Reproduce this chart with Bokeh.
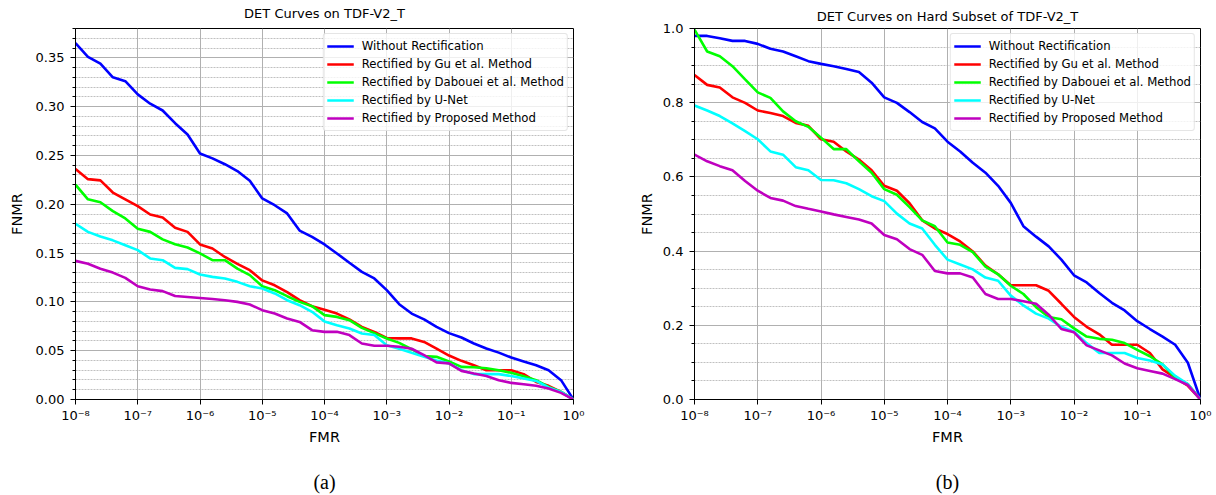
from bokeh.plotting import figure
from bokeh.layouts import row
from bokeh.models import (Range1d, FixedTicker, SingleIntervalTicker, CustomJSTickFormatter,
                          PrintfTickFormatter, Legend, LegendItem, LogAxis, ColumnDataSource)
from bokeh.embed import file_html
from bokeh.resources import INLINE

# ---------------- data ----------------
FMR_EXP = [-8.0, -7.8, -7.6, -7.4, -7.2, -7.0, -6.8, -6.6, -6.4, -6.2,
           -6.0, -5.8, -5.6, -5.4, -5.2, -5.0, -4.8, -4.6, -4.4, -4.2,
           -4.0, -3.8, -3.6, -3.4, -3.2, -3.0, -2.8, -2.6, -2.4, -2.2,
           -2.0, -1.8, -1.6, -1.4, -1.2, -1.0, -0.8, -0.6, -0.4, -0.2, 0.0]

SERIES_NAMES = ["Without Rectification", "Rectified by Gu et al. Method",
                "Rectified by Dabouei et al. Method", "Rectified by U-Net",
                "Rectified by Proposed Method"]
SERIES_COLORS = ["#0000ff", "#ff0000", "#00ff00", "#00ffff", "#bf00bf"]

DECADE_TICKS = [1e-8, 1e-7, 1e-6, 1e-5, 1e-4, 1e-3, 1e-2, 1e-1, 1e0]

# (a) DET Curves on TDF-V2_T
A_WITHOUT = [0.365, 0.351, 0.344, 0.330, 0.326, 0.3125, 0.303, 0.296, 0.283, 0.2715,
             0.252, 0.247, 0.241, 0.234, 0.224, 0.206, 0.199, 0.1906, 0.173, 0.1666,
             0.1588, 0.1496, 0.140, 0.1307, 0.124, 0.112, 0.0976, 0.088, 0.082, 0.0744,
             0.068, 0.0635, 0.0574, 0.0522, 0.048, 0.043, 0.039, 0.035, 0.030, 0.0198, 0.0]
A_GU = [0.236, 0.2257, 0.2244, 0.212, 0.205, 0.198, 0.1895, 0.1865, 0.176, 0.1717,
        0.1588, 0.1547, 0.146, 0.139, 0.1325, 0.122, 0.117, 0.110, 0.1017, 0.0956,
        0.092, 0.088, 0.082, 0.0744, 0.0693, 0.063, 0.0626, 0.0626, 0.059, 0.052,
        0.045, 0.0396, 0.035, 0.030, 0.030, 0.030, 0.026, 0.018, 0.014, 0.0078, 0.0]
A_DABOUEI = [0.220, 0.205, 0.202, 0.193, 0.1855, 0.175, 0.1717, 0.164, 0.159, 0.1557,
             0.1496, 0.1427, 0.1427, 0.134, 0.1274, 0.116, 0.112, 0.1058, 0.100, 0.0956,
             0.0864, 0.0846, 0.0812, 0.0734, 0.068, 0.0625, 0.058, 0.0515, 0.0444, 0.0437,
             0.039, 0.0334, 0.033, 0.032, 0.030, 0.0273, 0.0239, 0.0198, 0.0129, 0.0078, 0.0]
A_UNET = [0.180, 0.1717, 0.167, 0.163, 0.158, 0.153, 0.1445, 0.1427, 0.1348, 0.1335,
          0.128, 0.1256, 0.124, 0.1205, 0.116, 0.1137, 0.1086, 0.1017, 0.0966, 0.0898,
          0.080, 0.076, 0.0727, 0.0676, 0.066, 0.0556, 0.052, 0.0478, 0.0437, 0.040,
          0.037, 0.030, 0.026, 0.026, 0.026, 0.024, 0.0215, 0.019, 0.0123, 0.0078, 0.0]
A_PROPOSED = [0.142, 0.139, 0.134, 0.130, 0.1246, 0.116, 0.1127, 0.111, 0.106, 0.105,
              0.104, 0.103, 0.1017, 0.100, 0.0973, 0.0915, 0.088, 0.083, 0.0795, 0.071,
              0.0693, 0.0693, 0.066, 0.0574, 0.055, 0.055, 0.054, 0.052, 0.0454, 0.038,
              0.037, 0.0293, 0.0266, 0.024, 0.0198, 0.017, 0.0157, 0.014, 0.0113, 0.0068, 0.0]

# (b) DET Curves on Hard Subset of TDF-V2_T
B_WITHOUT = [0.980, 0.980, 0.9735, 0.9666, 0.9666, 0.9586, 0.9454, 0.938, 0.925, 0.912,
             0.9046, 0.8985, 0.891, 0.8826, 0.854, 0.8145, 0.7996, 0.7747, 0.748, 0.7307,
             0.695, 0.6687, 0.638, 0.6114, 0.576, 0.530, 0.467, 0.439, 0.4127, 0.377,
             0.3348, 0.3154, 0.287, 0.2606, 0.240, 0.211, 0.190, 0.1696, 0.1475, 0.099, 0.0]
B_GU = [0.8746, 0.848, 0.841, 0.8145, 0.7996, 0.779, 0.772, 0.764, 0.7456, 0.7376,
        0.7015, 0.695, 0.6687, 0.6467, 0.618, 0.576, 0.5627, 0.529, 0.483, 0.461,
        0.446, 0.426, 0.399, 0.361, 0.3375, 0.308, 0.308, 0.308, 0.293, 0.258,
        0.2226, 0.196, 0.1757, 0.1475, 0.1475, 0.1475, 0.1254, 0.0813, 0.059, 0.037, 0.0]
B_DABOUEI = [0.997, 0.938, 0.925, 0.8985, 0.863, 0.8277, 0.813, 0.7766, 0.750, 0.735,
             0.7058, 0.675, 0.675, 0.642, 0.6114, 0.567, 0.552, 0.5187, 0.483, 0.467,
             0.423, 0.417, 0.397, 0.358, 0.3375, 0.3066, 0.2844, 0.249, 0.2226, 0.2165,
             0.1917, 0.1696, 0.1635, 0.161, 0.152, 0.134, 0.1166, 0.0946, 0.059, 0.0416, 0.0]
B_UNET = [0.7925, 0.779, 0.764, 0.744, 0.7236, 0.7015, 0.6687, 0.660, 0.6263, 0.618,
          0.5918, 0.591, 0.583, 0.567, 0.548, 0.5346, 0.501, 0.4744, 0.461, 0.417,
          0.377, 0.364, 0.3507, 0.3287, 0.320, 0.280, 0.2536, 0.2314, 0.218, 0.196,
          0.183, 0.152, 0.1254, 0.1254, 0.1254, 0.112, 0.105, 0.0946, 0.0636, 0.0416, 0.0]
B_PROPOSED = [0.660, 0.642, 0.629, 0.618, 0.589, 0.5627, 0.5433, 0.536, 0.5213, 0.514,
              0.507, 0.499, 0.492, 0.485, 0.4744, 0.4434, 0.432, 0.4055, 0.390, 0.3464,
              0.340, 0.340, 0.3287, 0.2844, 0.271, 0.271, 0.265, 0.258, 0.2287, 0.190,
              0.181, 0.1458, 0.1325, 0.119, 0.097, 0.084, 0.0769, 0.0698, 0.0548, 0.039, 0.0]

FONT = "DejaVu Sans"
GRID = "#b0b0b0"

sup_formatter = CustomJSTickFormatter(code="""
const sup = {'-':'\u207b','0':'\u2070','1':'\u00b9','2':'\u00b2','3':'\u00b3','4':'\u2074',
             '5':'\u2075','6':'\u2076','7':'\u2077','8':'\u2078','9':'\u2079'};
const e = Math.round(Math.log10(tick));
return '10' + String(e).split('').map(c => sup[c]).join('');
""")


def make_panel(title, caption, series, ymax, yint, nminor, yfmt, width,
               mb_left, mb_right, mb_top, title_standoff, ylabel_standoff):
    p = figure(width=width, height=495, x_axis_type="log",
               x_range=Range1d(1e-8, 1.0), y_range=Range1d(0, ymax),
               output_backend="svg", toolbar_location=None,
               min_border_left=mb_left, min_border_right=mb_right,
               min_border_top=mb_top, min_border_bottom=96)
    p.background_fill_color = "white"
    p.border_fill_color = "white"
    p.outline_line_color = "black"
    p.outline_line_width = 1
    p.outline_line_alpha = 1

    p.title.text = title
    p.title.align = "center"
    p.title.vertical_align = "top"
    p.title.text_font = FONT
    p.title.text_font_size = "13px"
    p.title.text_font_style = "normal"
    p.title.text_color = "black"
    p.title.standoff = title_standoff

    xs = [10 ** e for e in FMR_EXP]
    renderers = []
    for ys, col in zip(series, SERIES_COLORS):
        src = ColumnDataSource(dict(x=xs, y=ys))
        r = p.line("x", "y", source=src, line_color=col, line_width=2.6)
        renderers.append(r)

    p.xaxis.ticker = FixedTicker(ticks=DECADE_TICKS, minor_ticks=[])
    p.xaxis.formatter = sup_formatter
    p.yaxis.ticker = SingleIntervalTicker(interval=yint, num_minor_ticks=nminor)
    p.yaxis.formatter = PrintfTickFormatter(format=yfmt)

    for ax in (p.xaxis[0], p.yaxis[0]):
        ax.axis_line_color = "black"
        ax.major_tick_line_color = "black"
        ax.minor_tick_line_color = "black"
        ax.major_tick_out = 5
        ax.major_tick_in = 0
        ax.minor_tick_out = 3
        ax.minor_tick_in = 0
        ax.major_label_text_font = FONT
        ax.major_label_text_font_size = "13px"
        ax.major_label_text_color = "black"
        ax.axis_label_text_font = FONT
        ax.axis_label_text_font_size = "14.5px"
        ax.axis_label_text_font_style = "normal"
        ax.axis_label_text_color = "black"
    p.xaxis.axis_label = "FMR"
    p.yaxis.axis_label = "FNMR"
    p.xaxis.major_label_standoff = 3
    p.yaxis.major_label_standoff = 6
    p.xaxis.axis_label_standoff = 3
    p.yaxis.axis_label_standoff = ylabel_standoff

    p.xgrid.grid_line_color = GRID
    p.xgrid.grid_line_width = 1
    p.ygrid.grid_line_color = GRID
    p.ygrid.grid_line_width = 1
    p.ygrid.minor_grid_line_color = GRID
    p.ygrid.minor_grid_line_width = 0.8
    p.ygrid.minor_grid_line_dash = "2 1"

    legend = Legend(items=[LegendItem(label=n, renderers=[r]) for n, r in zip(SERIES_NAMES, renderers)],
                    location="top_right")
    legend.label_text_font = FONT
    legend.label_text_font_size = "11.7px"
    legend.label_text_color = "black"
    legend.glyph_width = 27
    legend.glyph_height = 18
    legend.label_height = 18
    legend.label_standoff = 8
    legend.spacing = 0
    legend.padding = 3
    legend.margin = 5
    legend.border_line_color = "#cccccc"
    legend.border_line_width = 1
    legend.background_fill_alpha = 0.8
    try:
        legend.border_radius = 3
    except Exception:
        pass
    p.add_layout(legend)

    # sub-figure caption "(a)" / "(b)" as a tick-less axis label under the FMR axis
    cap_axis = LogAxis(ticker=FixedTicker(ticks=[], minor_ticks=[]), axis_label=caption,
                       axis_line_color=None, major_tick_line_color=None,
                       minor_tick_line_color=None, major_tick_out=0, minor_tick_out=0,
                       major_label_standoff=0, major_label_text_font_size="0px",
                       axis_label_text_font="Liberation Serif",
                       axis_label_text_font_size="20px",
                       axis_label_text_font_style="normal",
                       axis_label_text_color="black",
                       axis_label_standoff=23)
    p.add_layout(cap_axis, "below")
    return p


p1 = make_panel("DET Curves on TDF-V2_T", "(a)",
                [A_WITHOUT, A_GU, A_DABOUEI, A_UNET, A_PROPOSED],
                0.38, 0.05, 5, "%.2f", 618, 75, 45, 28, 11, 8)
p2 = make_panel("DET Curves on Hard Subset of TDF-V2_T", "(b)",
                [B_WITHOUT, B_GU, B_DABOUEI, B_UNET, B_PROPOSED],
                1.0, 0.2, 4, "%.1f", 596, 76, 14, 22, 5, 5)

layout = row(p1, p2)
open("out.html", "w").write(file_html(layout, INLINE))
